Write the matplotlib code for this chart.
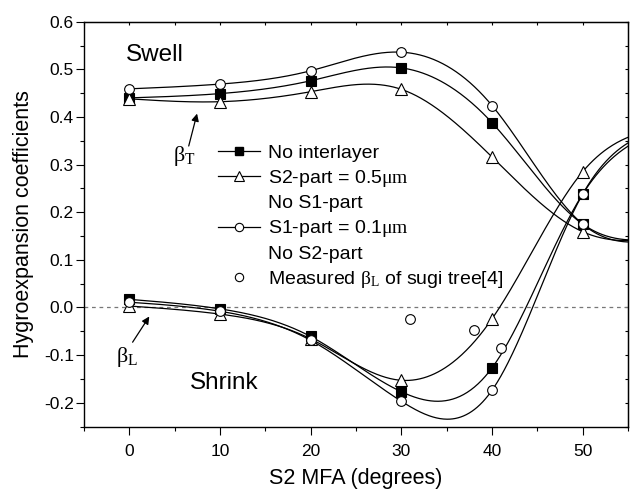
import numpy as np
import matplotlib
matplotlib.use('Agg')
import matplotlib.pyplot as plt
from matplotlib.ticker import MultipleLocator, FormatStrFormatter
from matplotlib.lines import Line2D

plt.rcParams['font.family'] = ['Liberation Sans', 'DejaVu Sans']
plt.rcParams['mathtext.fontset'] = 'custom'
plt.rcParams['mathtext.rm'] = 'Liberation Serif'
plt.rcParams['mathtext.it'] = 'Liberation Serif'
plt.rcParams['mathtext.bf'] = 'Liberation Serif:bold'
plt.rcParams['axes.unicode_minus'] = False

# ---------------- data ----------------
mfa = [0, 10, 20, 30, 40, 50, 60]   # last point lies beyond the visible axis (x > 55)
# transverse hygroexpansion coefficient beta_T
bt_none = [0.440, 0.449, 0.476, 0.503, 0.388, 0.175, 0.150]
bt_s2 = [0.438, 0.432, 0.453, 0.458, 0.316, 0.159, 0.150]
bt_s1 = [0.459, 0.469, 0.497, 0.536, 0.424, 0.175, 0.150]
# longitudinal hygroexpansion coefficient beta_L
bl_none = [0.017, -0.003, -0.061, -0.177, -0.127, 0.238, 0.380]
bl_s2 = [0.003, -0.014, -0.066, -0.153, -0.024, 0.285, 0.380]
bl_s1 = [0.011, -0.008, -0.069, -0.197, -0.174, 0.238, 0.380]
# measured beta_L of sugi tree
meas_x = [31, 38, 41]
meas_y = [-0.024, -0.047, -0.085]

labels = ['No interlayer', 'S2-part = 0.5$\\mathrm{\\mu m}$', 'No S1-part',
          'S1-part = 0.1$\\mathrm{\\mu m}$', 'No S2-part',
          'Measured $\\mathrm{\\beta_L}$ of sugi tree[4]']


def natural_spline(x, y, xs):
    x = np.asarray(x, float)
    y = np.asarray(y, float)
    n = len(x)
    h = np.diff(x)
    A = np.zeros((n, n))
    r = np.zeros(n)
    A[0, 0] = A[-1, -1] = 1.0
    for i in range(1, n - 1):
        A[i, i - 1] = h[i - 1]
        A[i, i] = 2 * (h[i - 1] + h[i])
        A[i, i + 1] = h[i]
        r[i] = 6 * ((y[i + 1] - y[i]) / h[i] - (y[i] - y[i - 1]) / h[i - 1])
    M = np.linalg.solve(A, r)
    idx = np.clip(np.searchsorted(x, xs) - 1, 0, n - 2)
    x0 = x[idx]
    x1 = x[idx + 1]
    hh = x1 - x0
    t0 = x1 - xs
    t1 = xs - x0
    return (M[idx] * t0 ** 3 / (6 * hh) + M[idx + 1] * t1 ** 3 / (6 * hh)
            + (y[idx] / hh - M[idx] * hh / 6) * t0
            + (y[idx + 1] / hh - M[idx + 1] * hh / 6) * t1)


fig = plt.figure(figsize=(6.3, 4.91), dpi=100)
ax = fig.add_axes([84 / 630, (491 - 426.5) / 491, (628 - 84) / 630, (426.5 - 21.7) / 491])

LW = 0.9
MS = 7
MEW = 0.8
xs = np.linspace(mfa[0], mfa[-1], 600)

ax.axhline(0, color='#777777', lw=0.9, ls=(0, (3, 3)), zorder=1)

series = [
    (bt_none, 's', 'k'), (bt_s2, '^', 'white'), (bt_s1, 'o', 'white'),
    (bl_none, 's', 'k'), (bl_s2, '^', 'white'), (bl_s1, 'o', 'white'),
]
for vals, mk, fc in series:
    ax.plot(xs, natural_spline(mfa, vals, xs), color='k', lw=LW, zorder=2)
for vals, mk, fc in series:
    ax.plot(mfa, vals, ls='none', marker=mk, mfc=fc, mec='k', mew=MEW,
            ms=MS if mk != '^' else MS + 1, zorder=3)
ax.plot(meas_x, meas_y, ls='none', marker='o', mfc='white', mec='k', mew=MEW, ms=MS, zorder=3)

ax.set_xlim(-5, 55)
ax.set_ylim(-0.25, 0.6)

ax.xaxis.set_major_locator(MultipleLocator(10))
ax.xaxis.set_minor_locator(MultipleLocator(5))
ax.yaxis.set_major_locator(MultipleLocator(0.1))
ax.yaxis.set_minor_locator(MultipleLocator(0.05))
ax.yaxis.set_major_formatter(FormatStrFormatter('%.1f'))
ax.tick_params(which='major', direction='out', length=5.8, width=0.8, labelsize=12.5)
ax.tick_params(which='minor', direction='out', length=2.9, width=0.8)
ax.tick_params(axis='x', which='major', pad=7)
ax.tick_params(axis='y', which='major', pad=1.5)
for s in ax.spines.values():
    s.set_linewidth(1.0)

secx = ax.secondary_xaxis('top')
secx.xaxis.set_major_locator(MultipleLocator(10))
secx.xaxis.set_minor_locator(MultipleLocator(5))
secx.tick_params(which='both', direction='in', length=2.5, width=0.8, labeltop=False)
secy = ax.secondary_yaxis('right')
secy.yaxis.set_major_locator(MultipleLocator(0.1))
secy.yaxis.set_minor_locator(MultipleLocator(0.05))
secy.tick_params(which='both', direction='in', length=2.5, width=0.8, labelright=False)

ax.set_xlabel('S2 MFA (degrees)', fontsize=15.5)
ax.set_ylabel('Hygroexpansion coefficients', fontsize=15.5)
ax.xaxis.set_label_coords(0.5, -0.103)
ax.yaxis.set_label_coords(-0.092, 0.5)

ax.text(-0.4, 0.5175, 'Swell', fontsize=17.5, ha='left', va='baseline')
ax.text(6.7, -0.171, 'Shrink', fontsize=17.5, ha='left', va='baseline')
ax.text(4.8, 0.318, '$\\mathrm{\\beta_T}$', fontsize=16, ha='left', va='center')
ax.text(-1.5, -0.104, '$\\mathrm{\\beta_L}$', fontsize=16, ha='left', va='center')
ax.annotate('', xy=(7.47, 0.407), xytext=(6.55, 0.339),
            arrowprops=dict(arrowstyle='-|>', color='k', lw=0.9, mutation_scale=11, shrinkA=0, shrinkB=0))
ax.annotate('', xy=(2.2, -0.019), xytext=(0.36, -0.073),
            arrowprops=dict(arrowstyle='-|>', color='k', lw=0.9, mutation_scale=11, shrinkA=0, shrinkB=0))

blank = Line2D([], [], ls='none')
handles = [
    Line2D([], [], color='k', lw=LW, marker='s', mfc='k', mec='k', ms=6),
    Line2D([], [], color='k', lw=LW, marker='^', mfc='white', mec='k', ms=7, mew=MEW),
    blank,
    Line2D([], [], color='k', lw=LW, marker='o', mfc='white', mec='k', ms=6, mew=MEW),
    blank,
    Line2D([], [], ls='none', marker='o', mfc='white', mec='k', ms=6, mew=MEW),
]
leg = ax.legend(handles, labels, loc='upper left', bbox_to_anchor=(218 / 630, (491 - 144) / 491),
                bbox_transform=fig.transFigure, frameon=False, fontsize=14, borderpad=0,
                borderaxespad=0, handlelength=2.15, handletextpad=0.4, labelspacing=0.31)

fig.savefig('out.png', dpi=100)
